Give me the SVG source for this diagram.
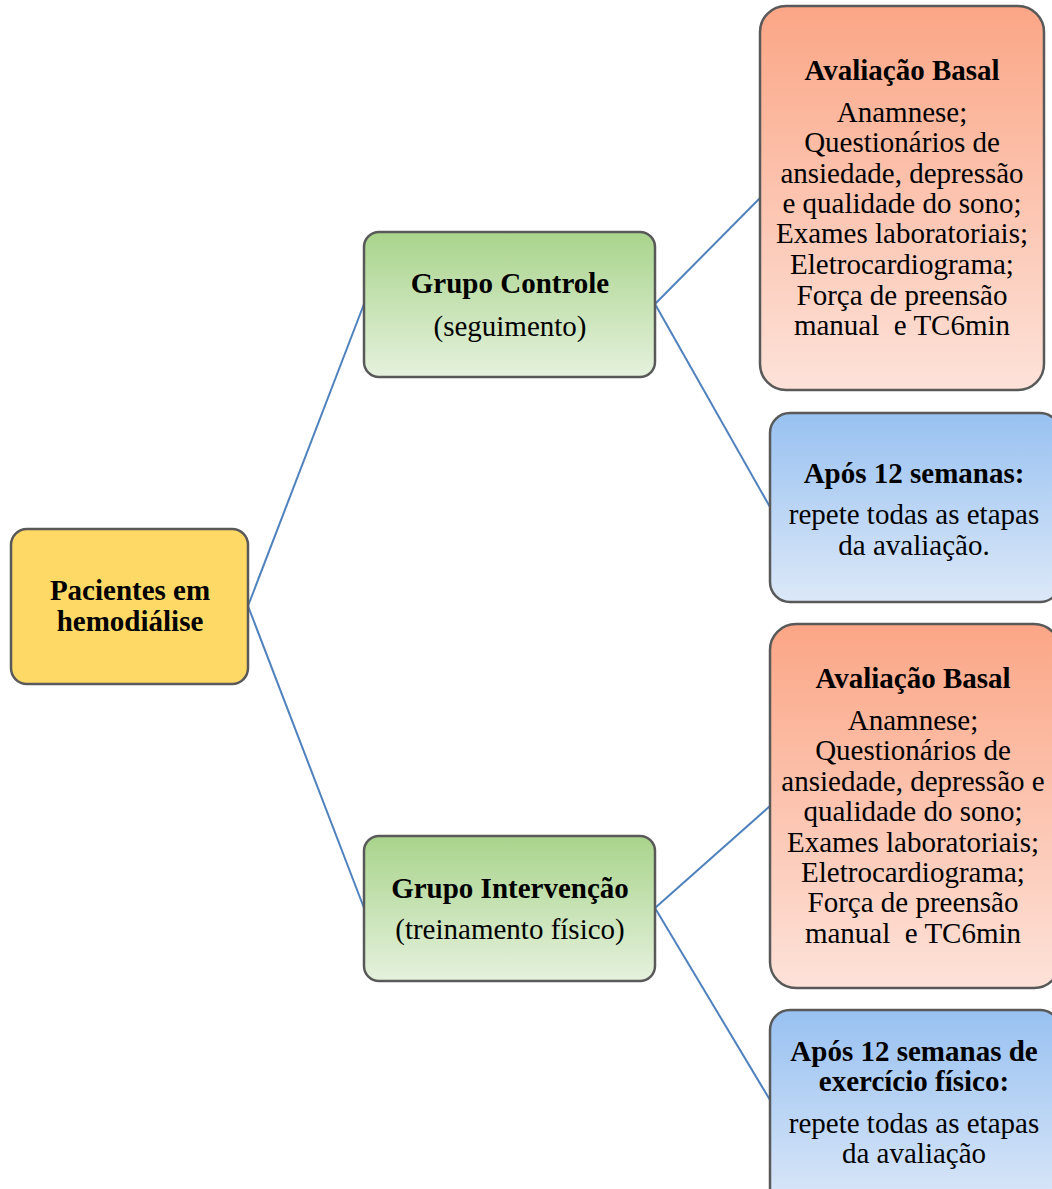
<svg xmlns="http://www.w3.org/2000/svg" width="1052" height="1189" viewBox="0 0 1052 1189">
<style>
.box{stroke:#595959;stroke-width:2.5}
.t{font-family:"Liberation Serif","Times New Roman",serif;font-size:29px;fill:#000;text-anchor:middle}
.b{font-weight:bold}
.c{stroke:#4F81BD;stroke-width:2;fill:none}
</style>
<defs>
<linearGradient id="gGreen" x1="0" y1="0" x2="0" y2="1"><stop offset="0" stop-color="#A9D48C"/><stop offset="1" stop-color="#E5F1DD"/></linearGradient>
<linearGradient id="gOrange" x1="0" y1="0" x2="0" y2="1"><stop offset="0" stop-color="#FBA686"/><stop offset="1" stop-color="#FDE2D9"/></linearGradient>
<linearGradient id="gBlue" x1="0" y1="0" x2="0" y2="1"><stop offset="0" stop-color="#98C1F1"/><stop offset="1" stop-color="#DCE8F8"/></linearGradient>
</defs>
<rect width="1052" height="1189" fill="#fff"/>
<g id="connectors">
<line class="c" x1="248" y1="606" x2="364" y2="304"/>
<line class="c" x1="248" y1="606" x2="364" y2="908"/>
<line class="c" x1="655" y1="304" x2="760" y2="198"/>
<line class="c" x1="655" y1="304" x2="770" y2="507"/>
<line class="c" x1="655" y1="908" x2="770" y2="806"/>
<line class="c" x1="655" y1="908" x2="770" y2="1100"/>
</g>
<g id="root">
<rect class="box" x="11" y="529" width="237" height="155" rx="16" fill="#FFD966"/>
<text class="t b" x="130" y="600">Pacientes em</text>
<text class="t b" x="130" y="631">hemodiálise</text>
</g>
<g id="grupo-controle">
<rect class="box" x="364" y="232" width="291" height="145" rx="15" fill="url(#gGreen)"/>
<text class="t b" x="510" y="293">Grupo Controle</text>
<text class="t" x="510" y="336">(seguimento)</text>
</g>
<g id="grupo-intervencao">
<rect class="box" x="364" y="836" width="291" height="145" rx="15" fill="url(#gGreen)"/>
<text class="t b" x="510" y="898">Grupo Intervenção</text>
<text class="t" x="510" y="939">(treinamento físico)</text>
</g>
<g id="basal-controle">
<rect class="box" x="760" y="6" width="284" height="384" rx="26" fill="url(#gOrange)"/>
<text class="t b" x="902" y="80">Avaliação Basal</text>
<text class="t" x="902" y="122">Anamnese;</text>
<text class="t" x="902" y="152">Questionários de</text>
<text class="t" x="902" y="183">ansiedade, depressão</text>
<text class="t" x="902" y="213">e qualidade do sono;</text>
<text class="t" x="902" y="243">Exames laboratoriais;</text>
<text class="t" x="902" y="274">Eletrocardiograma;</text>
<text class="t" x="902" y="305">Força de preensão</text>
<text class="t" x="902" y="335" xml:space="preserve">manual  e TC6min</text>
</g>
<g id="apos-controle">
<rect class="box" x="770" y="413" width="290" height="189" rx="20" fill="url(#gBlue)"/>
<text class="t b" x="914" y="483">Após 12 semanas:</text>
<text class="t" x="914" y="524">repete todas as etapas</text>
<text class="t" x="914" y="555">da avaliação.</text>
</g>
<g id="basal-intervencao">
<rect class="box" x="770" y="624" width="290" height="364" rx="26" fill="url(#gOrange)"/>
<text class="t b" x="913" y="688">Avaliação Basal</text>
<text class="t" x="913" y="730">Anamnese;</text>
<text class="t" x="913" y="760">Questionários de</text>
<text class="t" x="913" y="791">ansiedade, depressão e</text>
<text class="t" x="913" y="821">qualidade do sono;</text>
<text class="t" x="913" y="852">Exames laboratoriais;</text>
<text class="t" x="913" y="882">Eletrocardiograma;</text>
<text class="t" x="913" y="912">Força de preensão</text>
<text class="t" x="913" y="943" xml:space="preserve">manual  e TC6min</text>
</g>
<g id="apos-intervencao">
<rect class="box" x="770" y="1010" width="290" height="200" rx="20" fill="url(#gBlue)"/>
<text class="t b" x="914" y="1061">Após 12 semanas de</text>
<text class="t b" x="914" y="1091">exercício físico:</text>
<text class="t" x="914" y="1133">repete todas as etapas</text>
<text class="t" x="914" y="1163">da avaliação</text>
</g>
</svg>
